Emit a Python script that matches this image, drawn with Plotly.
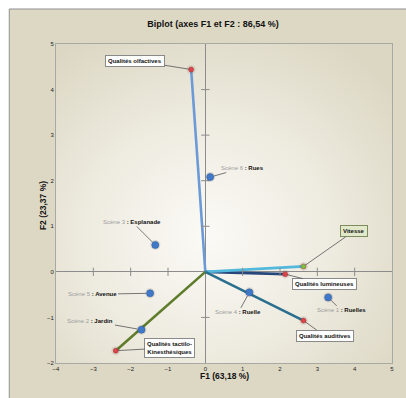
import base64
import plotly.graph_objects as go

# Variables (vectors drawn from the origin)
var_names = ["Qualités olfactives", "Qualités tactilo-<br>Kinesthésiques",
             "Qualités lumineuses", "Vitesse", "Qualités auditives"]
var_f1 = [-0.38, -2.40, 2.14, 2.63, 2.63]
var_f2 = [4.44, -1.73, -0.05, 0.12, -1.07]

# Observations (scenes)
obs_ids = ["Scène 1", "Scène 2", "Scène 3", "Scène 4", "Scène 5", "Scène 6"]
obs_names = ["Ruelles", "Jardin", "Esplanade", "Ruelle", "Avenue", "Rues"]
obs_f1 = [3.29, -1.71, -1.34, 1.18, -1.48, 0.13]
obs_f2 = [-0.56, -1.27, 0.59, -0.45, -0.47, 2.08]

x_ticks = [-4, -3, -2, -1, 0, 1, 2, 3, 4, 5]
y_ticks = [-2, -1, 0, 1, 2, 3, 4, 5]

# Styling
W, H = 406, 398
ML, MR, MT, MB = 56, 12, 44, 35
PW, PH = W - ML - MR, H - MT - MB
BEIGE = "#ddd8c4"
FONT = "Liberation Sans, Arial, sans-serif"
vec_colors = ["#6b9ad6", "#5e7c2b", "#27477a", "#52b8dc", "#2a6f8e"]
var_offsets = [(-56, -9), (54, -3), (39, 10), (50, -35), (21, 15)]
var_bg = ["white", "white", "white", "#e2e9cb", "white"]
var_border = ["#8a8a8a", "#8a8a8a", "#8a8a8a", "#7c8c5c", "#8a8a8a"]
obs_offsets = [(13, 13), (-51, -9), (-23, -23), (-11, 20), (-58, 1), (32, -9)]
TICK_GREY = "#8c8c8c"


def px_x(p):
    return (p - ML) / PW


def px_y(p):
    return (H - MB - p) / PH


fig = go.Figure()

# Vectors
for name, x, y, c in zip(var_names, var_f1, var_f2, vec_colors):
    fig.add_trace(go.Scatter(x=[0, x], y=[0, y], mode="lines",
                             line=dict(color=c, width=2.6), hoverinfo="skip"))

# Tick marks on the zero lines
xt = [t for t in x_ticks if t not in (0, x_ticks[0], x_ticks[-1])]
yt = [t for t in y_ticks if t not in (0, y_ticks[0], y_ticks[-1])]
fig.add_trace(go.Scatter(x=xt, y=[0] * len(xt), mode="markers",
                         marker=dict(symbol="line-ns-open", size=6,
                                     color=TICK_GREY,
                                     line=dict(color=TICK_GREY, width=1))))
fig.add_trace(go.Scatter(x=[0] * len(yt), y=yt, mode="markers",
                         marker=dict(symbol="line-ew-open", size=6,
                                     color=TICK_GREY,
                                     line=dict(color=TICK_GREY, width=1))))

# Variable end points
var_marker_colors = ["#d9454a", "#d9454a", "#d9454a", "#7cc242", "#d9454a"]
fig.add_trace(go.Scatter(x=var_f1, y=var_f2, mode="markers",
                         marker=dict(size=9, color="rgba(60,50,30,0.10)")))
fig.add_trace(go.Scatter(x=var_f1, y=var_f2, mode="markers",
                         marker=dict(size=5, color=var_marker_colors,
                                     symbol="circle",
                                     line=dict(color="#b03035", width=0.5))))

# Observation points
fig.add_trace(go.Scatter(x=obs_f1, y=obs_f2, mode="markers",
                         marker=dict(size=10, color="rgba(60,50,30,0.13)")))
fig.add_trace(go.Scatter(x=obs_f1, y=obs_f2, mode="markers",
                         marker=dict(size=7, color="#4179c9",
                                     line=dict(color="#2d5ea8", width=0.6))))

annotations = []
for name, x, y, (ax, ay), bg, bc in zip(var_names, var_f1, var_f2,
                                         var_offsets, var_bg, var_border):
    annotations.append(dict(
        x=x, y=y, xref="x", yref="y", ax=ax, ay=ay, text="<b>%s</b>" % name,
        showarrow=True, arrowhead=0, arrowwidth=0.8, arrowcolor="#555555",
        standoff=2, bgcolor=bg, bordercolor=bc, borderwidth=1, borderpad=2,
        font=dict(family=FONT, size=6, color="#111111")))

for sid, name, x, y, (ax, ay) in zip(obs_ids, obs_names, obs_f1, obs_f2,
                                     obs_offsets):
    annotations.append(dict(
        x=x, y=y, xref="x", yref="y", ax=ax, ay=ay,
        text="<span style='color:#9e9e9e'>%s</span> <b>: %s</b>" % (sid, name),
        showarrow=True, arrowhead=0, arrowwidth=0.8, arrowcolor="#555555",
        standoff=4, borderpad=1,
        font=dict(family=FONT, size=6, color="#111111")))

# Axis titles
annotations.append(dict(x=px_x(225), y=px_y(383), xref="paper", yref="paper",
                        text="<b>F1 (63,18 %)</b>", showarrow=False,
                        font=dict(family=FONT, size=8.5, color="#111111")))
annotations.append(dict(x=px_x(36), y=px_y(206), xref="paper", yref="paper",
                        text="<b>F2 (23,37 %)</b>", showarrow=False,
                        textangle=-90,
                        font=dict(family=FONT, size=8.5, color="#111111")))

# Radial highlight behind the plot area
svg = ('<svg xmlns="http://www.w3.org/2000/svg" width="%d" height="%d">'
       '<defs><radialGradient id="g" cx="0.45" cy="0.6" r="0.72">'
       '<stop offset="0" stop-color="#fbfaf6"/>'
       '<stop offset="0.5" stop-color="#eeebe0"/>'
       '<stop offset="1" stop-color="#dcd7c3"/>'
       '</radialGradient></defs>'
       '<rect width="100%%" height="100%%" fill="url(#g)"/></svg>') % (PW, PH)
src = "data:image/svg+xml;base64," + base64.b64encode(svg.encode()).decode()

# Outer frame: white gutter on the top/left with a grey edge
shapes = [
    dict(type="rect", xref="paper", yref="paper", x0=px_x(-5), x1=px_x(9),
         y0=px_y(H + 5), y1=px_y(-5), fillcolor="white", line=dict(width=0),
         layer="above"),
    dict(type="rect", xref="paper", yref="paper", x0=px_x(-5), x1=px_x(W + 5),
         y0=px_y(9), y1=px_y(-5), fillcolor="white", line=dict(width=0),
         layer="above"),
    dict(type="line", xref="paper", yref="paper", x0=px_x(9), x1=px_x(9),
         y0=px_y(9), y1=px_y(H + 5), line=dict(color="#8f8f8f", width=1)),
    dict(type="line", xref="paper", yref="paper", x0=px_x(9), x1=px_x(W + 5),
         y0=px_y(9), y1=px_y(9), line=dict(color="#8f8f8f", width=1)),
]

axis_common = dict(showgrid=False, zeroline=True, zerolinecolor=TICK_GREY,
                   zerolinewidth=1, showline=True, mirror=True,
                   linecolor="#a9a9a4", linewidth=1, ticks="",
                   tickfont=dict(family=FONT, size=6, color="#222222"))

fig.update_layout(
    width=W, height=H, margin=dict(l=ML, r=MR, t=MT, b=MB),
    paper_bgcolor=BEIGE, plot_bgcolor=BEIGE, showlegend=False,
    title=dict(text="<b>Biplot (axes F1 et F2 : 86,54 %)</b>",
               x=213 / W, xref="container", xanchor="center",
               y=1 - 24 / H, yref="container", yanchor="middle",
               font=dict(family=FONT, size=9, color="#111111")),
    xaxis=dict(range=[x_ticks[0], x_ticks[-1]], tickvals=x_ticks, **axis_common),
    yaxis=dict(range=[y_ticks[0], y_ticks[-1]], tickvals=y_ticks, **axis_common),
    images=[dict(source=src, xref="paper", yref="paper", x=0, y=1,
                 sizex=1, sizey=1, xanchor="left", yanchor="top",
                 sizing="stretch", layer="below")],
    annotations=annotations, shapes=shapes, hovermode=False,
)

fig.write_html("out.html")
